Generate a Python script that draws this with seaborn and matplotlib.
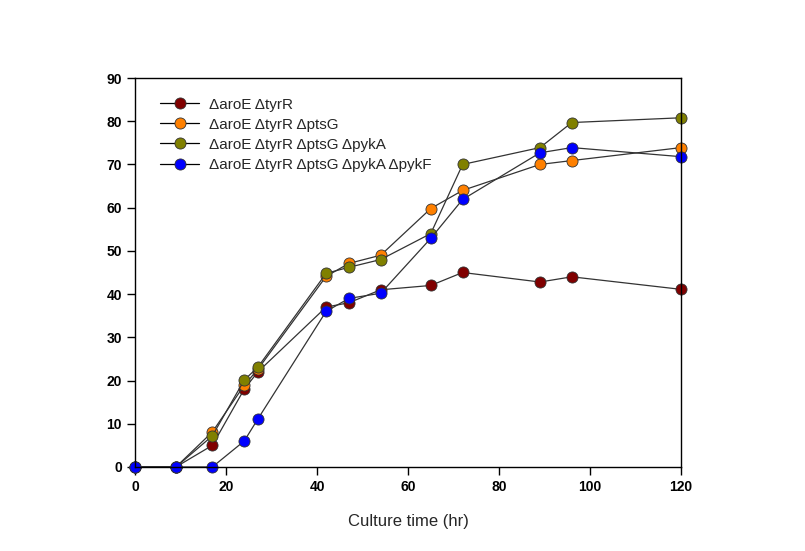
import numpy as np
import pandas as pd
import matplotlib
matplotlib.use("Agg")
import matplotlib.pyplot as plt
import seaborn as sns

# Data
time_hr = [0, 9, 17, 24, 27, 42, 47, 54, 65, 72, 89, 96, 120]

aroE_tyrR = [0, 0, 5.0, 18.0, 22.0, 37.0, 38.0, 41.0, 42.0, 45.0, 42.8, 44.0, 41.1]
aroE_tyrR_ptsG = [0, 0, 8.1, 18.9, 22.6, 44.1, 47.1, 49.0, 59.8, 64.0, 70.0, 70.9, 73.9]
aroE_tyrR_ptsG_pykA = [0, 0, 7.2, 20.1, 23.1, 44.8, 46.2, 48.0, 54.0, 70.0, 73.9, 79.7, 80.8]
aroE_tyrR_ptsG_pykA_pykF = [0, 0, 0, 6.0, 11.1, 36.0, 39.0, 40.2, 52.9, 61.9, 72.7, 73.9, 71.8]

labels = ["ΔaroE ΔtyrR",
          "ΔaroE ΔtyrR ΔptsG",
          "ΔaroE ΔtyrR ΔptsG ΔpykA",
          "ΔaroE ΔtyrR ΔptsG ΔpykA ΔpykF"]
colors = ["#800000", "#FF8000", "#808000", "#0000FF"]
series = [aroE_tyrR, aroE_tyrR_ptsG, aroE_tyrR_ptsG_pykA, aroE_tyrR_ptsG_pykA_pykF]

sns.set_style("ticks")
plt.rcParams["font.family"] = ["Liberation Sans", "DejaVu Sans"]

fig = plt.figure(figsize=(8.05, 5.51), dpi=100)
ax = fig.add_axes([0.1677, 0.1525, 0.6783, 0.7059])

for name, vals, c in zip(labels, series, colors):
    df = pd.DataFrame({"time": time_hr, "value": vals})
    sns.lineplot(data=df, x="time", y="value", ax=ax, label=name,
                 color="#333333", linewidth=0.9, marker="o", markersize=8,
                 markerfacecolor=c, markeredgecolor="#333333",
                 markeredgewidth=0.6, clip_on=False)

ax.set_xlim(0, 120)
ax.set_ylim(0, 90)
ax.set_xticks(np.arange(0, 121, 20))
ax.set_yticks(np.arange(0, 91, 10))
for s in ["top", "right", "left", "bottom"]:
    ax.spines[s].set_visible(True)
    ax.spines[s].set_linewidth(1.0)
    ax.spines[s].set_color("black")
ax.tick_params(axis="both", direction="out", length=6, width=1.0,
               labelsize=10, colors="black")
ax.tick_params(top=False, right=False)
for t in ax.get_xticklabels() + ax.get_yticklabels():
    t.set_fontweight("bold")

ax.set_xlabel("Culture time (hr)", fontsize=12, labelpad=14)
ax.set_ylabel("")

leg = ax.legend(loc="upper left", bbox_to_anchor=(0.02, 0.985), frameon=False,
                fontsize=11, handlelength=2.6, labelspacing=0.4,
                handletextpad=0.6)
for h in leg.legend_handles:
    h.set_color("black")

fig.savefig("out.png", dpi=100)
